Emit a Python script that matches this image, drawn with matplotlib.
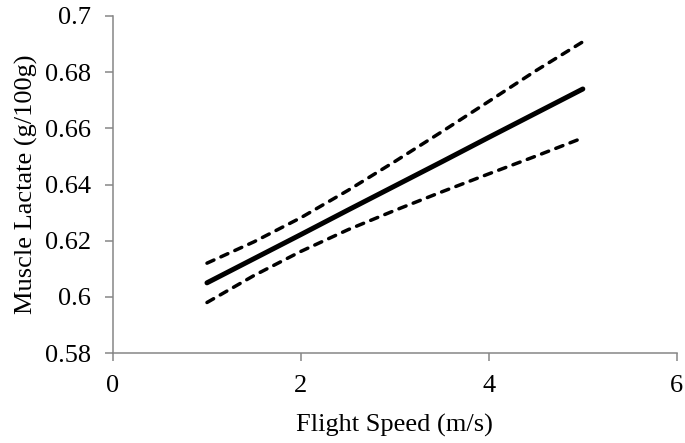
import matplotlib
matplotlib.use("Agg")
import matplotlib.pyplot as plt

# fitted line with 95% bounds
speed = [1, 1.5, 2, 2.5, 3, 3.5, 4, 4.5, 5]
lactate_fit = [0.605, 0.6136, 0.6222, 0.6309, 0.6395, 0.6481, 0.6568, 0.6654, 0.674]
lactate_upper = [0.612, 0.6196, 0.6282, 0.6379, 0.6482, 0.6588, 0.6696, 0.6805, 0.6908]
lactate_lower = [0.598, 0.6076, 0.6162, 0.6239, 0.6308, 0.6374, 0.6438, 0.6501, 0.6566]

x_ticks = [0, 2, 4, 6]
y_ticks = [0.58, 0.6, 0.62, 0.64, 0.66, 0.68, 0.7]
y_tick_labels = ["0.58", "0.6", "0.62", "0.64", "0.66", "0.68", "0.7"]

plt.rcParams['font.family'] = ['Liberation Serif', 'DejaVu Serif']
plt.rcParams['font.size'] = 19

fig = plt.figure(figsize=(6.85, 4.43), dpi=100)
ax = fig.add_axes([0.165, 0.203, 0.823, 0.761])

ax.plot(speed, lactate_fit, color='black', linewidth=3.6, solid_capstyle='round')
# bounds: short rounded dashes like the original
for bound in (lactate_upper, lactate_lower):
    ax.plot(speed, bound, color='black', linewidth=2.5, dashes=(2.2, 2.2),
            dash_capstyle='round')

ax.set_xlim(0, 6)
ax.set_ylim(0.58, 0.7)
ax.set_xticks(x_ticks)
ax.set_yticks(y_ticks)
ax.set_yticklabels(y_tick_labels)

for side in ['top', 'right']:
    ax.spines[side].set_visible(False)
for side in ['left', 'bottom']:
    ax.spines[side].set_color('#868686')
    ax.spines[side].set_linewidth(1.1)
ax.tick_params(direction='out', length=6, width=1.1, color='#868686', labelcolor='black', pad=10)

ax.set_xlabel('Flight Speed (m/s)', labelpad=12)
ax.set_ylabel('Muscle Lactate (g/100g)', labelpad=5)

fig.savefig('out.png', dpi=100)
